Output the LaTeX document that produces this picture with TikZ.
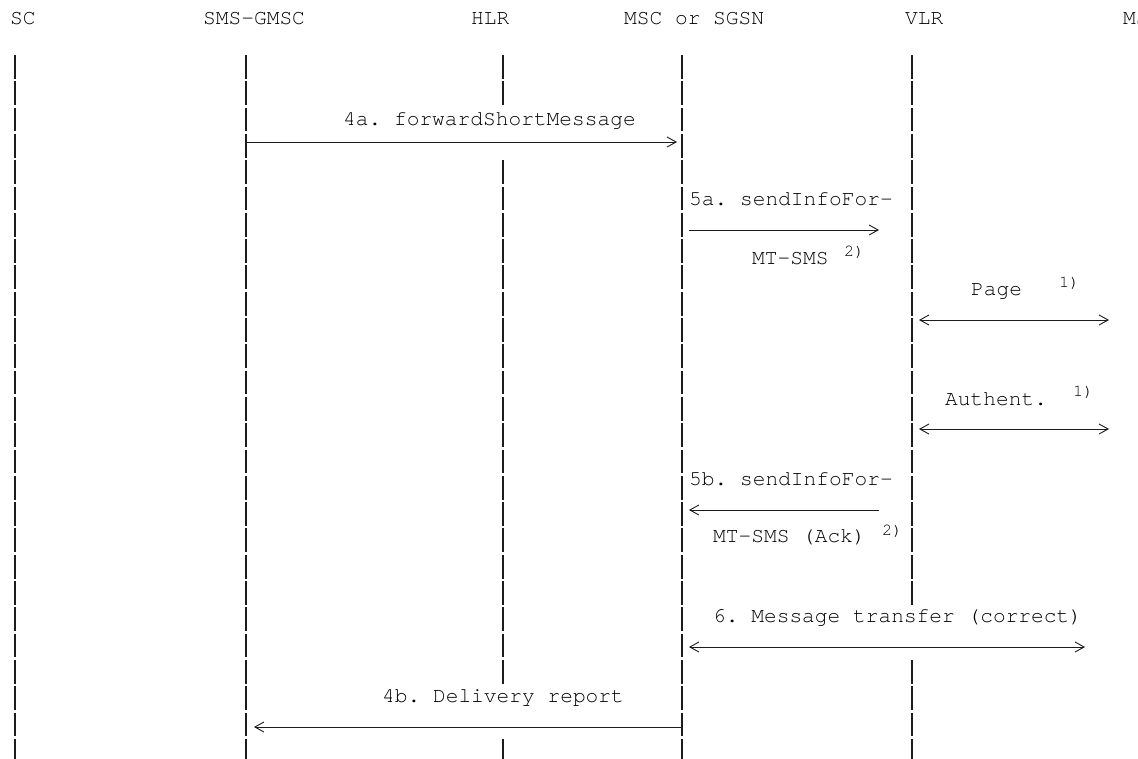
\documentclass[tikz,border=0pt]{standalone}
\usepackage{fontspec}
\setmonofont{TeX Gyre Cursor}
\usetikzlibrary{arrows.meta}
\definecolor{ink}{HTML}{1C1C1C}
\tikzset{
  actor/.style ={font=\ttfamily\fontsize{21.2}{24}\selectfont,text=black,
                 inner sep=0pt,anchor=mid west},
  msglbl/.style={font=\ttfamily\fontsize{21.2}{24}\selectfont,text=black,
                 inner sep=0pt,anchor=mid west},
  fnote/.style ={font=\ttfamily\fontsize{17}{19}\selectfont,text=black,
                 inner sep=0pt,anchor=mid west},
  life/.style  ={draw=ink,line width=1.2pt,dash pattern=on 23.8pt off 2.5pt},
  msgR/.style  ={draw=ink,line width=0.9pt,-{Straight Barb[length=9pt,width=10pt]}},
  msgL/.style  ={draw=ink,line width=0.9pt,{Straight Barb[length=9pt,width=10pt]}-},
  msgLR/.style ={draw=ink,line width=0.9pt,
                 {Straight Barb[length=9pt,width=10pt]}-{Straight Barb[length=9pt,width=10pt]}}
}

\begin{document}
\begin{tikzpicture}[x=1pt,y=-1pt]
  \useasboundingbox[fill=white] (0,0) rectangle (1138,758);
  % entities
  \node[actor] (sc)   at (10,22)   {SC};
  \node[actor] (gmsc) at (203,22)  {SMS-GMSC};
  \node[actor] (hlr)  at (471,22)  {HLR};
  \node[actor] (msc)  at (624,22)  {MSC or SGSN};
  \node[actor] (vlr)  at (905,22)  {VLR};
  \node[actor] (ms)   at (1123,22) {MS};
  % lifelines
  \foreach \n/\x in {sc/15,gmsc/246,hlr/503,msc/682,vlr/912}{
    \coordinate (\n-top) at (\x,55);
    \coordinate (\n-bot) at (\x,762);
  }
  \coordinate (hlr-a) at (503,106);   \coordinate (hlr-b) at (503,160.2);
  \coordinate (hlr-c) at (503,684);   \coordinate (hlr-d) at (503,738.8);
  \coordinate (vlr-a) at (912,605);   \coordinate (vlr-b) at (912,659.9);
  \draw[life] (sc-top) -- (sc-bot);
  \draw[life] (gmsc-top) -- (gmsc-bot);
  \draw[life] (msc-top) -- (msc-bot);
  \draw[life] (hlr-top) -- (hlr-a);
  \draw[life] (hlr-b) -- (hlr-c);
  \draw[life] (hlr-d) -- (hlr-bot);
  \draw[life] (vlr-top) -- (vlr-a);
  \draw[life] (vlr-b) -- (vlr-bot);

  % 4a
  \node[msglbl] (l4a) at (343,123) {4a. forwardShortMessage};
  \coordinate (m4a-s) at (246,142);  \coordinate (m4a-e) at (677,142);
  \draw[msgR] (m4a-s) -- (m4a-e);
  % 5a
  \node[msglbl] (l5a) at (689,203) {5a. sendInfoFor-};
  \node[msglbl] (l5a2) at (752,262) {MT-SMS};
  \node[fnote] (n5a) at (844,254) {2)};
  \coordinate (m5a-s) at (689,230);  \coordinate (m5a-e) at (879,230);
  \draw[msgR] (m5a-s) -- (m5a-e);
  % page
  \node[msglbl] (lpg) at (971,293) {Page};
  \node[fnote] (npg) at (1059,285) {1)};
  \coordinate (mpg-s) at (919,320);  \coordinate (mpg-e) at (1109,320);
  \draw[msgLR] (mpg-s) -- (mpg-e);
  % authentication
  \node[msglbl] (lau) at (945,403) {Authent.};
  \node[fnote] (nau) at (1073,394) {1)};
  \coordinate (mau-s) at (919,429);  \coordinate (mau-e) at (1109,429);
  \draw[msgLR] (mau-s) -- (mau-e);
  % 5b
  \node[msglbl] (l5b) at (689,483) {5b. sendInfoFor-};
  \node[msglbl] (l5b2) at (713,540) {MT-SMS (Ack)};
  \node[fnote] (n5b) at (882,533) {2)};
  \coordinate (m5b-s) at (689,510);  \coordinate (m5b-e) at (879,510);
  \draw[msgL] (m5b-s) -- (m5b-e);
  % 6
  \node[msglbl] (l6) at (713,620) {6. Message transfer (correct)};
  \coordinate (m6-s) at (689,647);  \coordinate (m6-e) at (1085,647);
  \draw[msgLR] (m6-s) -- (m6-e);
  % 4b
  \node[msglbl] (l4b) at (382,700) {4b. Delivery report};
  \coordinate (m4b-s) at (254,727);  \coordinate (m4b-e) at (682,727);
  \draw[msgL] (m4b-s) -- (m4b-e);
\end{tikzpicture}
\end{document}
